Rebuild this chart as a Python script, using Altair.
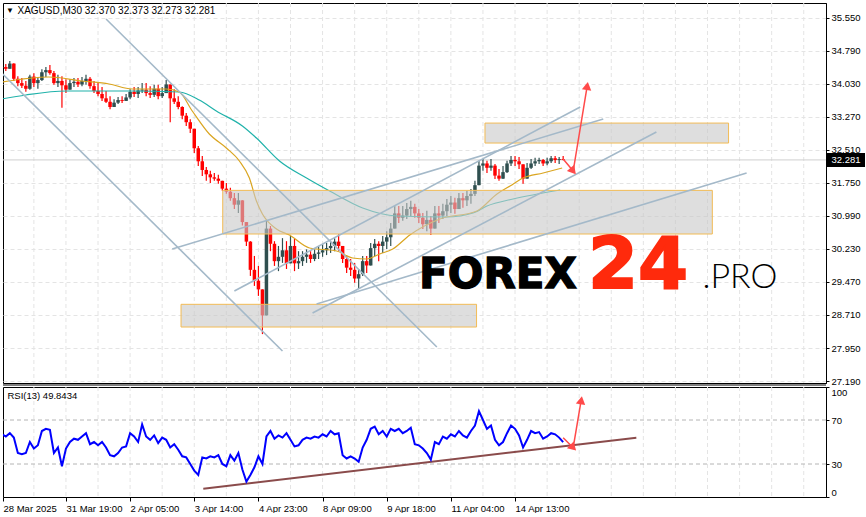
import altair as alt
import pandas as pd

FONT = "Liberation Sans"

# ---- XAGUSD price bars (2-hour aggregation of the M30 feed) ----
first_open = 34.40
closes = [34.42, 34.38, 34.50, 34.15, 34.05, 33.99, 33.92, 34.20, 34.05, 34.12,
          34.30, 34.35, 34.28, 34.05, 34.10, 34.00, 33.90, 34.05, 34.08, 34.02,
          34.10, 34.15, 33.98, 33.87, 33.80, 33.70, 33.62, 33.50, 33.60, 33.66,
          33.64, 33.72, 33.85, 33.80, 33.88, 33.90, 33.82, 33.78, 33.92, 33.75,
          33.82, 34.02, 33.70, 33.62, 33.50, 33.30, 33.15, 33.00, 32.55, 32.25,
          32.05, 31.95, 31.88, 31.85, 31.80, 31.62, 31.55, 31.40, 31.25, 31.35,
          30.85, 30.40, 29.75, 29.50, 29.30, 28.70, 30.70, 30.35, 29.95, 30.05,
          30.20, 29.90, 30.30, 29.90, 29.95, 30.05, 30.10, 30.00, 30.12, 30.15,
          30.20, 30.25, 30.30, 30.40, 30.30, 30.00, 29.80, 29.75, 29.55, 29.65,
          29.95, 29.85, 30.25, 30.35, 30.30, 30.40, 30.50, 30.70, 31.05, 30.95,
          31.00, 31.15, 31.20, 31.05, 30.95, 30.80, 30.90, 30.70, 31.05, 31.00,
          31.10, 31.25, 31.30, 31.15, 31.40, 31.35, 31.45, 31.50, 31.70, 32.15,
          32.20, 32.10, 32.15, 31.92, 31.85, 32.00, 32.20, 32.28, 32.25, 32.18,
          31.85, 32.10, 32.20, 32.25, 32.28, 32.20, 32.25, 32.32, 32.28, 32.30,
          32.281]
highs = [34.51, 34.49, 34.56, 34.51, 34.21, 34.17, 34.10, 34.24, 34.28, 34.19,
         34.37, 34.42, 34.47, 34.33, 34.24, 34.21, 34.14, 34.14, 34.17, 34.17,
         34.19, 34.24, 34.19, 34.10, 34.05, 33.96, 33.87, 33.75, 33.68, 33.73,
         33.75, 33.80, 33.91, 33.96, 33.96, 34.05, 34.05, 33.98, 34.01, 34.01,
         33.96, 34.12, 33.98, 33.91, 33.75, 33.52, 33.36, 33.22, 33.00, 32.60,
         32.37, 32.12, 32.03, 31.98, 31.94, 31.80, 31.75, 31.64, 31.52, 31.52,
         31.22, 30.76, 30.41, 30.07, 29.84, 29.26, 30.88, 30.76, 30.41, 30.30,
         30.48, 30.41, 30.53, 30.46, 30.18, 30.18, 30.22, 30.18, 30.22, 30.30,
         30.34, 30.37, 30.41, 30.48, 30.57, 30.30, 30.07, 30.00, 29.91, 29.77,
         30.07, 30.07, 30.37, 30.46, 30.41, 30.53, 30.64, 30.83, 31.22, 31.22,
         31.22, 31.29, 31.34, 31.27, 31.15, 31.06, 31.11, 30.99, 31.22, 31.22,
         31.27, 31.38, 31.45, 31.41, 31.52, 31.52, 31.57, 31.61, 31.80, 32.26,
         32.30, 32.26, 32.30, 32.19, 32.07, 32.14, 32.26, 32.37, 32.37, 32.35,
         32.14, 32.21, 32.30, 32.33, 32.33, 32.30, 32.33, 32.37, 32.37, 32.35,
         32.373]
lows = [34.33, 34.33, 34.38, 34.10, 33.98, 33.94, 33.85, 33.90, 33.96, 33.92,
        34.10, 34.19, 34.24, 34.01, 33.96, 33.48, 33.82, 33.91, 33.96, 33.96,
        33.98, 34.01, 33.92, 33.82, 33.75, 33.64, 33.59, 33.45, 33.50, 33.57,
        33.59, 33.64, 33.68, 33.73, 33.71, 33.82, 33.75, 33.71, 33.73, 33.68,
        33.71, 33.82, 33.15, 33.57, 33.45, 33.22, 33.06, 32.90, 32.44, 32.14,
        31.91, 31.80, 31.75, 31.80, 31.73, 31.57, 31.50, 31.34, 31.15, 31.06,
        30.77, 30.30, 29.61, 29.38, 29.15, 28.27, 28.98, 30.18, 29.84, 29.72,
        29.91, 29.77, 29.91, 29.72, 29.77, 29.84, 29.91, 29.91, 29.95, 30.00,
        30.05, 30.09, 30.14, 30.18, 30.18, 29.91, 29.68, 29.61, 29.45, 29.31,
        29.61, 29.68, 29.91, 30.07, 29.95, 30.14, 30.23, 30.30, 30.76, 30.83,
        30.88, 30.92, 30.99, 30.95, 30.83, 30.69, 30.64, 30.55, 30.76, 30.83,
        30.92, 30.99, 31.06, 31.04, 31.15, 31.18, 31.22, 31.27, 31.45, 31.75,
        32.03, 31.98, 32.03, 31.84, 31.80, 31.84, 31.98, 32.14, 32.14, 32.07,
        31.73, 31.91, 32.07, 32.14, 32.19, 32.14, 32.16, 32.21, 32.21, 32.19,
        32.273]

# ---- moving averages (bar position, value) ----
ma_fast_bar = [0, 11.75, 20, 26.75, 32.5, 41, 44.25, 47.5, 51.75, 56, 59.25, 61.75,
               63.5, 65, 68.5, 71.75, 76.75, 83.5, 87.5, 91, 94.25, 97.5, 101.75,
               109.25, 118.5, 123.5, 126.75, 130, 135, 139.75]
ma_fast_val = [34.076, 34.191, 34.099, 34.030, 33.915, 33.915, 33.846, 33.408, 32.878,
               32.556, 32.257, 31.865, 31.335, 31.036, 30.691, 30.552, 30.253, 30.184,
               30.023, 30.000, 30.115, 30.230, 30.552, 30.921, 31.105, 31.497, 31.681,
               31.865, 31.980, 32.095]
ma_slow_bar = [0, 6, 16, 32.5, 44.25, 49.25, 53.5, 60, 63.5, 69.25, 76, 81.75, 90,
               98.5, 111, 117.5, 121, 127.5, 139.25]
ma_slow_val = [33.685, 33.777, 33.869, 33.869, 33.846, 33.661, 33.408, 33.063, 32.786,
               32.257, 31.865, 31.566, 31.174, 30.990, 30.967, 31.059, 31.220, 31.381,
               31.589]

# ---- RSI(13) ----
rsi = [57, 55, 58, 54, 40, 39, 40, 50, 44, 47, 60, 62, 61, 40, 45, 28, 44, 50, 53, 52,
       55, 58, 48, 50, 47, 50, 45, 38, 37, 40, 45, 46, 58, 55, 50, 66, 55, 52, 56, 49,
       54, 52, 45, 48, 43, 37, 36, 30, 24, 20, 36, 35, 37, 36, 38, 30, 28, 38, 33, 40,
       25, 14, 20, 27, 37, 30, 55, 60, 53, 56, 54, 58, 52, 46, 47, 52, 54, 53, 55, 54,
       57, 55, 60, 57, 58, 38, 35, 37, 35, 32, 45, 52, 62, 64, 57, 60, 55, 62, 60, 62,
       58, 60, 63, 48, 47, 44, 40, 34, 50, 48, 55, 53, 57, 55, 60, 56, 54, 60, 65, 78,
       70, 62, 65, 52, 47, 50, 58, 65, 62, 56, 45, 52, 60, 58, 59, 53, 55, 58, 57, 54,
       49.8434]
rsi_levels = [70, 30]

# ---- drawn objects ----
zone_from = [120.5, 55.1, 44.7]
zone_to = [181.25, 177.2, 118.4]
zone_top = [33.13, 31.58, 28.956]
zone_bottom = [32.67, 30.575, 28.433]

line_bar1 = [26, 0, 42.5, 58, 77.5, 78.5]
line_val1 = [35.527, 34.28, 30.230, 29.263, 28.756, 28.963]
line_bar2 = [108.5, 70, 150, 144.25, 163.25, 185.75]
line_val2 = [27.973, 27.881, 33.224, 33.500, 32.924, 31.980]

arrow_bar = [140, 142.5, 146]
arrow_val = [32.303, 32.026, 33.984]
rsi_arrow_bar = [140, 142.5, 144.5]
rsi_arrow_val = [53.9, 44.8, 88.0]
rsi_trend_bar = [50.25, 158.25]
rsi_trend_val = [7.5, 53.9]

# ---- axes ----
x_lo, x_hi = 0.3, 205.55
price_ticks = [27.19, 27.95, 28.71, 29.47, 30.23, 30.99, 31.75, 32.51, 33.27,
               34.03, 34.79, 35.55]
time_bars = [0, 16, 32, 48, 64, 80, 96, 112, 128]
time_labels = ["28 Mar 2025", "31 Mar 19:00", "2 Apr 05:00", "3 Apr 14:00",
               "4 Apr 23:00", "8 Apr 09:00", "9 Apr 18:00", "11 Apr 04:00",
               "14 Apr 13:00"]
grid_bars = list(range(0, 208, 8))

symbol = "XAGUSD,M30"
quote = "32.370 32.373 32.273 32.281"

# ---- tables ----
opens = [first_open] + closes[:-1]
bars = pd.DataFrame({"bar": list(range(len(closes))), "open": opens,
                     "close": closes, "high": highs, "low": lows})
bars["high"] = bars[["high", "open", "close"]].max(axis=1)
bars["low"] = bars[["low", "open", "close"]].min(axis=1)
bars["dir"] = ["up" if c >= o else "down" for o, c in zip(opens, closes)]

fast = pd.DataFrame({"bar": ma_fast_bar, "v": ma_fast_val})
slow = pd.DataFrame({"bar": ma_slow_bar, "v": ma_slow_val})
rsi_df = pd.DataFrame({"bar": list(range(len(rsi))), "v": rsi})
levels = pd.DataFrame({"v": rsi_levels})
zones = pd.DataFrame({"b1": zone_from, "b2": zone_to, "t": zone_top, "b": zone_bottom})
tlines = pd.DataFrame({"b1": line_bar1, "v1": line_val1, "b2": line_bar2, "v2": line_val2})
arrow = pd.DataFrame({"bar": arrow_bar, "v": arrow_val, "i": [0, 1, 2]})
rsi_arrow = pd.DataFrame({"bar": rsi_arrow_bar, "v": rsi_arrow_val, "i": [0, 1, 2]})
rsi_trend = pd.DataFrame({"bar": rsi_trend_bar, "v": rsi_trend_val})
grid = pd.DataFrame({"bar": grid_bars})
last = pd.DataFrame({"v": [closes[-1]], "txt": [f"{closes[-1]:.3f}"]})

W, H_MAIN, H_RSI = 823, 380, 110
x_scale = alt.Scale(domain=[x_lo, x_hi], nice=False, zero=False, padding=0)
y_scale = alt.Scale(domain=[27.144, 35.895], nice=False, zero=False, padding=0)
r_scale = alt.Scale(domain=[0, 100], nice=False, zero=False, padding=0)

price_axis = alt.Axis(orient="right", values=price_ticks, format=".3f", title=None,
                      tickSize=3, labelPadding=2, tickColor="black", domainColor="black",
                      labelColor="black", labelFont=FONT, labelFontSize=9.5,
                      grid=True, gridColor="#e4e4e4", gridDash=[4, 3],
                      labelOverlap=False, labelFlush=False)
rsi_axis = alt.Axis(orient="right", values=[0, 30, 70, 100], format="d", title=None,
                    tickSize=3, labelPadding=2, tickColor="black", domainColor="black",
                    labelColor="black", labelFont=FONT, labelFontSize=9.5, grid=False,
                    labelFlush=True, labelOverlap=False)
# the first session starts at the left edge of the visible range
tick_positions = [max(b, x_lo) for b in time_bars]
label_expr = "[" + ",".join(f"'{t}'" for t in time_labels) + "][round(datum.value / 16)]"
time_axis = alt.Axis(values=tick_positions, labelExpr=label_expr, title=None, tickSize=4,
                     labelPadding=2, tickColor="black", domain=False, labelColor="black",
                     labelFont=FONT, labelFontSize=9.5, labelAlign="left", labelFlush=False,
                     labelOverlap=False, grid=False)

X = lambda f: alt.X(f, scale=x_scale, axis=None)
Y = lambda f: alt.Y(f, scale=y_scale, axis=price_axis)

# ---- price panel ----
vgrid = alt.Chart(grid).mark_rule(color="#e4e4e4", strokeDash=[4, 3], clip=True).encode(
    x=X("bar:Q"))
bid = alt.Chart(last).mark_rule(color="#cfcfcf").encode(y=Y("v:Q"))
dir_color = alt.Color("dir:N", scale=alt.Scale(domain=["up", "down"],
                                               range=["#2f4f4f", "#ff0000"]), legend=None)
wicks = alt.Chart(bars).mark_rule(strokeWidth=1.2, clip=True).encode(
    x=X("bar:Q"), y=Y("low:Q"), y2="high:Q", color=dir_color)
bodies = alt.Chart(bars).mark_rule(strokeWidth=3.5, clip=True).encode(
    x=X("bar:Q"), y=Y("open:Q"), y2="close:Q", color=dir_color)
slow_line = alt.Chart(slow).mark_line(color="#20b2aa", strokeWidth=1.2, clip=True,
                                      interpolate="monotone").encode(x=X("bar:Q"), y=Y("v:Q"))
fast_line = alt.Chart(fast).mark_line(color="#daa520", strokeWidth=1.2, clip=True,
                                      interpolate="monotone").encode(x=X("bar:Q"), y=Y("v:Q"))
zone_marks = alt.Chart(zones).mark_rect(fill="#c8c8c8", fillOpacity=0.6,
                                        stroke="#f2bb55", strokeWidth=1).encode(
    x=X("b1:Q"), x2="b2:Q", y=Y("t:Q"), y2="b:Q")
trend = alt.Chart(tlines).mark_rule(color="#a4b9c9", strokeWidth=1.6, clip=True).encode(
    x=X("b1:Q"), x2="b2:Q", y=Y("v1:Q"), y2="v2:Q")
arrow_line = alt.Chart(arrow).mark_line(color="#ff4a4a", strokeWidth=1.5).encode(
    x=X("bar:Q"), y=Y("v:Q"), order="i:Q")
head_down = alt.Chart(arrow[arrow.i == 1]).mark_point(
    shape="triangle-up", angle=140, size=90, filled=True, color="#ff4a4a", opacity=1).encode(
    x=X("bar:Q"), y=Y("v:Q"))
head_up = alt.Chart(arrow[arrow.i == 2]).mark_point(
    shape="triangle-up", angle=9, size=90, filled=True, color="#ff4a4a", opacity=1).encode(
    x=X("bar:Q"), y=Y("v:Q"))

logo_forex = alt.Chart(last).mark_text(text="FOREX", font="DejaVu Sans", fontWeight="bold",
                                       fontSize=42, color="black", stroke="black",
                                       strokeWidth=1.3, align="center",
                                       baseline="alphabetic").encode(
    x=alt.value(495), y=alt.value(285))
logo_24 = alt.Chart(last).mark_text(text="24", font="DejaVu Sans", fontWeight="bold",
                                    fontSize=72, color="#ff2a0c", stroke="#ff2a0c",
                                    strokeWidth=1.8, align="center",
                                    baseline="alphabetic").encode(
    x=alt.value(635), y=alt.value(285))
logo_pro = alt.Chart(last).mark_text(text=".PRO", font="Lato", fontWeight=300, fontSize=34,
                                     color="black", align="center",
                                     baseline="alphabetic").encode(
    x=alt.value(737), y=alt.value(285))

title_mark = alt.Chart(last).mark_text(text="\u25bc", fontSize=8, color="black",
                                       align="center", baseline="middle").encode(
    x=alt.value(7), y=alt.value(8))
title_text = alt.Chart(last).mark_text(text=f"{symbol}  {quote}", font=FONT, fontSize=10,
                                       color="black", align="left", baseline="middle").encode(
    x=alt.value(14.5), y=alt.value(8))
price_box = alt.Chart(last).mark_tick(thickness=14, size=38, color="black",
                                      orient="horizontal", opacity=1).encode(
    x=alt.value(843), y=Y("v:Q"))
price_txt = alt.Chart(last).mark_text(font=FONT, fontSize=9.5, color="white",
                                      align="left", baseline="middle").encode(
    x=alt.value(828.5), y=Y("v:Q"), text="txt:N")

main = alt.layer(vgrid, bid, wicks, bodies, slow_line, fast_line, zone_marks, trend,
                 arrow_line, head_down, head_up, logo_forex, logo_24, logo_pro,
                 title_mark, title_text, price_box, price_txt).properties(
    width=W, height=H_MAIN)

# ---- RSI panel ----
RX = lambda f: alt.X(f, scale=x_scale, axis=time_axis)
RY = lambda f: alt.Y(f, scale=r_scale, axis=rsi_axis)

r_vgrid = alt.Chart(grid).mark_rule(color="#e4e4e4", strokeDash=[4, 3], clip=True).encode(
    x=RX("bar:Q"))
r_levels = alt.Chart(levels).mark_rule(color="#b4b4b4", strokeDash=[4, 3]).encode(y=RY("v:Q"))
r_line = alt.Chart(rsi_df).mark_line(color="#0000ff", strokeWidth=2, clip=True).encode(
    x=RX("bar:Q"), y=RY("v:Q"))
r_trend = alt.Chart(rsi_trend).mark_line(color="#8a4b4b", strokeWidth=2).encode(
    x=RX("bar:Q"), y=RY("v:Q"))
r_arrow = alt.Chart(rsi_arrow).mark_line(color="#ff4a4a", strokeWidth=1.5).encode(
    x=RX("bar:Q"), y=RY("v:Q"), order="i:Q")
r_head_down = alt.Chart(rsi_arrow[rsi_arrow.i == 1]).mark_point(
    shape="triangle-up", angle=135, size=90, filled=True, color="#ff4a4a", opacity=1).encode(
    x=RX("bar:Q"), y=RY("v:Q"))
r_head_up = alt.Chart(rsi_arrow[rsi_arrow.i == 2]).mark_point(
    shape="triangle-up", angle=10, size=90, filled=True, color="#ff4a4a", opacity=1).encode(
    x=RX("bar:Q"), y=RY("v:Q"))
r_sep = alt.Chart(last).mark_rule(color="black").encode(y=alt.value(-2))
r_title = alt.Chart(last).mark_text(text=f"RSI(13) {rsi[-1]:.4f}", font=FONT, fontSize=9.5,
                                    color="black", align="left", baseline="middle").encode(
    x=alt.value(4.5), y=alt.value(9))

lower = alt.layer(r_vgrid, r_levels, r_trend, r_line, r_arrow, r_head_down, r_head_up,
                  r_sep, r_title).properties(width=W, height=H_RSI)

chart = alt.vconcat(main, lower, spacing=4, bounds="flush").resolve_scale(
    x="independent", y="independent").properties(
    padding={"left": 2, "top": 2, "right": 0, "bottom": 0},
    background="white").configure_view(stroke="black", strokeWidth=1)

chart.save("out.html", embed_options={"renderer": "svg", "actions": False})
